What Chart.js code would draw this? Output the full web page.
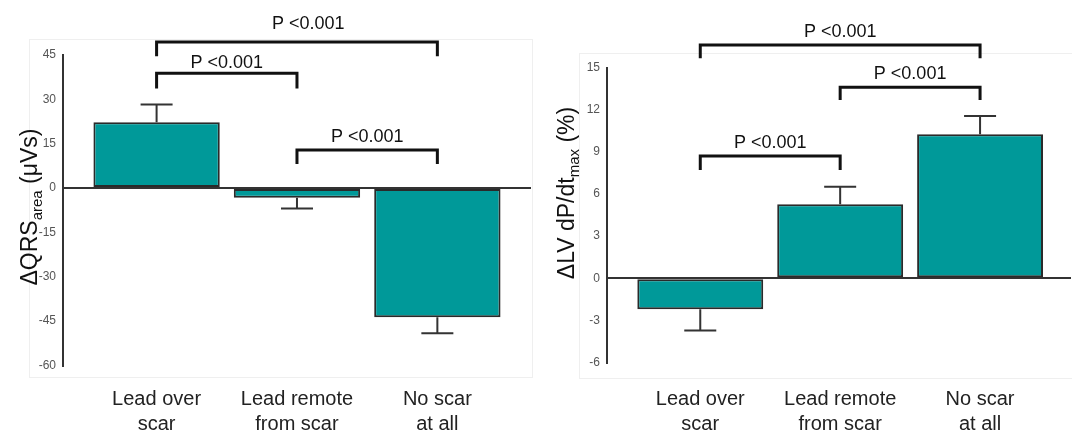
<!DOCTYPE html>
<html>
<head>
<meta charset="utf-8">
<script src="https://cdn.jsdelivr.net/npm/chart.js@4"></script>
<style>
    html, body { margin: 0; padding: 0; background: #fff; }
    #wrap { position: relative; width: 1072px; height: 431px; overflow: hidden; }
    .panel { position: absolute; top: 0; }
    .frame { position: absolute; border: 1px solid #efefef; }
</style>
</head>
<body>
<div id="wrap">
    <div class="frame" style="left:29px; top:39px; width:502px; height:337px;"></div>
    <div class="frame" style="left:579px; top:53px; width:500px; height:324px;"></div>
    <div class="panel" style="left:0px;"><canvas id="qrsChart" width="536" height="431"></canvas></div>
    <div class="panel" style="left:536px;"><canvas id="dpdtChart" width="536" height="431"></canvas></div>
</div>
<script>
// Categories shared by both panels
const categories = [['Lead over', 'scar'], ['Lead remote', 'from scar'], ['No scar', 'at all']];

// Left panel: change in QRS area (µVs), mean and error
const qrsMeans = [22.3, -3.3, -43.7];
const qrsErrors = [6.0, 3.6, 5.4];
const qrsTicks = [-60, -45, -30, -15, 0, 15, 30, 45];
// [from category, to category, bar level, leg end, label baseline, label x]
const qrsBrackets = [
    [1, 3, 49.4, 44.6, 53.9, 2.08],
    [1, 2, 38.8, 33.7, 40.5, 1.5],
    [2, 3, 12.85, 8.1, 15.7, 2.5]
];

// Right panel: change in LV dP/dt max (%), mean and error
const dpdtMeans = [-2.2, 5.27, 10.26];
const dpdtErrors = [1.52, 1.25, 1.30];
const dpdtTicks = [-6, -3, 0, 3, 6, 9, 12, 15];
const dpdtBrackets = [
    [1, 3, 16.62, 15.67, 17.16, 2.0],
    [2, 3, 13.6, 12.7, 14.2, 2.5],
    [1, 2, 8.71, 7.71, 9.26, 1.5]
];

const FONT = '"Liberation Sans", Arial, sans-serif';

function extrasPlugin(means, errors, brackets, title) {
    return {
        id: 'extras',
        afterDatasetsDraw(chart) {
            // error bars
            const ctx = chart.ctx;
            const xs = chart.scales.x, ys = chart.scales.y;
            ctx.save();
            ctx.strokeStyle = '#333';
            ctx.lineWidth = 2;
            means.forEach((m, i) => {
                const x = xs.getPixelForValue(i + 1);
                const sign = m >= 0 ? 1 : -1;
                const y0 = ys.getPixelForValue(m);
                const y1 = ys.getPixelForValue(m + sign * errors[i]);
                ctx.beginPath();
                ctx.moveTo(x, y0);
                ctx.lineTo(x, y1);
                ctx.moveTo(x - 16, y1);
                ctx.lineTo(x + 16, y1);
                ctx.stroke();
            });
            ctx.restore();
        },
        afterDraw(chart) {
            const ctx = chart.ctx;
            const xs = chart.scales.x, ys = chart.scales.y;
            ctx.save();
            // significance brackets
            ctx.strokeStyle = '#111';
            ctx.lineWidth = 3;
            ctx.fillStyle = '#111';
            ctx.font = '18px ' + FONT;
            ctx.textAlign = 'center';
            ctx.textBaseline = 'alphabetic';
            brackets.forEach(b => {
                const xa = xs.getPixelForValue(b[0]);
                const xb = xs.getPixelForValue(b[1]);
                const yTop = ys.getPixelForValue(b[2]);
                const yLeg = ys.getPixelForValue(b[3]);
                ctx.beginPath();
                ctx.moveTo(xa, yLeg);
                ctx.lineTo(xa, yTop);
                ctx.lineTo(xb, yTop);
                ctx.lineTo(xb, yLeg);
                ctx.stroke();
                ctx.fillText('P <0.001', xs.getPixelForValue(b[5]), ys.getPixelForValue(b[4]));
            });

            // y axis title with subscript
            ctx.translate(title.x, title.y);
            ctx.rotate(-Math.PI / 2);
            ctx.textAlign = 'left';
            ctx.fillStyle = '#111';
            const big = '23px ' + FONT, small = '15px ' + FONT;
            ctx.font = big;
            const w1 = ctx.measureText(title.main).width;
            const w3 = ctx.measureText(title.tail).width;
            ctx.font = small;
            const w2 = ctx.measureText(title.sub).width;
            let x = -(w1 + w2 + w3) / 2;
            ctx.font = big;
            ctx.fillText(title.main, x, 0);
            x += w1;
            ctx.font = small;
            ctx.fillText(title.sub, x, 5);
            x += w2;
            ctx.font = big;
            ctx.fillText(title.tail, x, 0);
            ctx.restore();
        }
    };
}

function makeChart(id, means, errors, ticks, brackets, opts) {
    new Chart(document.getElementById(id), {
        type: 'bar',
        data: {
            datasets: [{
                data: means.map((v, i) => ({ x: i + 1, y: v })),
                backgroundColor: '#009999',
                borderColor: '#2a2a2a',
                borderWidth: 2,
                borderSkipped: false,
                categoryPercentage: 1,
                barPercentage: 0.9
            }]
        },
        options: {
            responsive: false,
            animation: false,
            devicePixelRatio: 1,
            layout: { padding: { top: opts.top, right: opts.right, left: 0, bottom: 0 } },
            plugins: { legend: { display: false }, tooltip: { enabled: false } },
            scales: {
                x: {
                    type: 'linear',
                    offset: false,
                    bounds: 'data',
                    min: opts.xMin,
                    max: opts.xMax,
                    afterBuildTicks: s => { s.ticks = categories.map((c, i) => ({ value: i + 1 })); },
                    afterFit: s => { s.height = opts.xHeight; },
                    grid: { display: false, drawTicks: false, offset: false },
                    border: { display: false },
                    ticks: {
                        autoSkip: false,
                        maxRotation: 0,
                        padding: opts.labelPad,
                        color: '#222',
                        font: { family: FONT, size: 20, lineHeight: 1.22 },
                        callback: v => categories[v - 1]
                    }
                },
                y: {
                    min: ticks[0],
                    max: ticks[ticks.length - 1],
                    afterBuildTicks: s => { s.ticks = ticks.map(v => ({ value: v })); },
                    afterFit: s => { s.width = opts.yWidth; },
                    grid: {
                        drawTicks: false,
                        color: c => c.tick && c.tick.value === 0 ? '#333' : 'rgba(0,0,0,0)',
                        lineWidth: 2
                    },
                    border: { display: true, color: '#333', width: 2 },
                    ticks: {
                        padding: 7,
                        color: '#555',
                        font: { family: FONT, size: 12 }
                    }
                }
            }
        },
        plugins: [extrasPlugin(means, errors, brackets, opts.title)]
    });
}

makeChart('qrsChart', qrsMeans, qrsErrors, qrsTicks, qrsBrackets, {
    top: 55, right: 5, xHeight: 65.5, yWidth: 63, labelPad: 22,
    xMin: 1 / 3, xMax: 3.667,
    title: { x: 37, y: 207, main: '\u0394QRS', sub: 'area', tail: ' (\u03bcVs)' }
});

makeChart('dpdtChart', dpdtMeans, dpdtErrors, dpdtTicks, dpdtBrackets, {
    top: 67.7, right: 1, xHeight: 68.5, yWidth: 71, labelPad: 25,
    xMin: 1 / 3, xMax: 3.65,
    title: { x: 38, y: 193, main: '\u0394LV dP/dt', sub: 'max', tail: ' (%)' }
});
</script>
</body>
</html>
